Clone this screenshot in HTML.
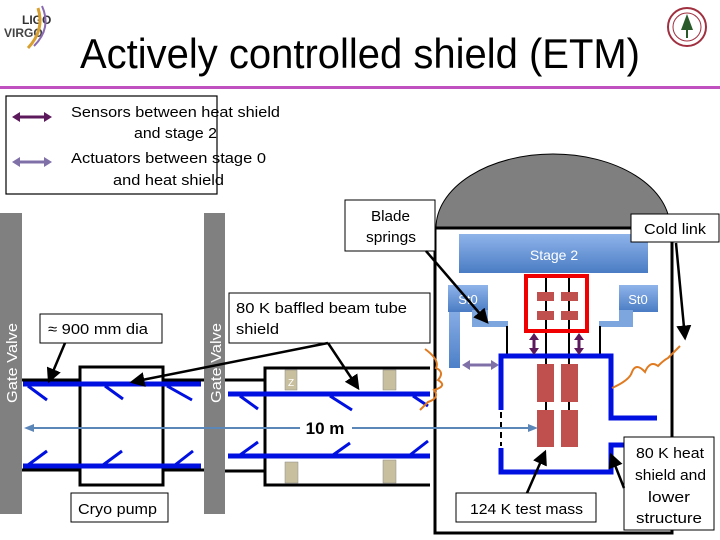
<!DOCTYPE html>
<html><head><meta charset="utf-8"><style>
body{margin:0;background:#fff}
svg{display:block}
text{font-family:"Liberation Sans",sans-serif}
</style></head><body>
<svg width="720" height="540" viewBox="0 0 720 540" xmlns="http://www.w3.org/2000/svg">
<defs>
<linearGradient id="bl" x1="0" y1="0" x2="0" y2="1"><stop offset="0" stop-color="#8fb4ea"/><stop offset="1" stop-color="#4a7cc4"/></linearGradient>
<linearGradient id="blv" x1="0" y1="0" x2="0" y2="1"><stop offset="0" stop-color="#9ebef0"/><stop offset="1" stop-color="#4d80c8"/></linearGradient>
<marker id="ak" markerWidth="6" markerHeight="6" refX="5" refY="3" orient="auto" markerUnits="strokeWidth"><path d="M0,0 L6,3 L0,6 z" fill="#000"/></marker>
</defs>
<!-- header -->
<text x="22" y="24" font-size="12" font-weight="bold" fill="#333">LIGO</text>
<text x="4" y="37" font-size="12" font-weight="bold" fill="#444">VIRGO</text>
<path d="M28,48 Q45,30 38,8" stroke="#d8a030" stroke-width="3" fill="none"/>
<path d="M34,46 Q52,28 42,6" stroke="#8a6ab0" stroke-width="2" fill="none"/>
<circle cx="687" cy="27" r="19" fill="#fff" stroke="#a03040" stroke-width="2"/>
<circle cx="687" cy="27" r="14" fill="none" stroke="#a03040" stroke-width="1"/>
<path d="M687,14 L681,30 L693,30 z M686,30 h2 v8 h-2z" fill="#2a5a2a"/>
<text x="360" y="68" font-size="42" text-anchor="middle" fill="#000" textLength="560" lengthAdjust="spacingAndGlyphs">Actively controlled shield (ETM)</text>
<rect x="0" y="86" width="720" height="3" fill="#c050c0"/>
<!-- legend -->
<rect x="6" y="96" width="211" height="98" fill="#fff" stroke="#000" stroke-width="1.2"/>
<line x1="16" y1="117" x2="48" y2="117" stroke="#5c1a5c" stroke-width="3"/>
<path d="M12,117 l8,-5 v10z M52,117 l-8,-5 v10z" fill="#5c1a5c"/>
<line x1="16" y1="162" x2="48" y2="162" stroke="#8070a8" stroke-width="3"/>
<path d="M12,162 l8,-5 v10z M52,162 l-8,-5 v10z" fill="#8070a8"/>
<g font-size="15" fill="#000" lengthAdjust="spacingAndGlyphs">
<text x="71" y="117" textLength="209" lengthAdjust="spacingAndGlyphs">Sensors between heat shield</text>
<text x="134" y="138" textLength="83" lengthAdjust="spacingAndGlyphs">and stage 2</text>
<text x="71" y="163" textLength="195" lengthAdjust="spacingAndGlyphs">Actuators between stage 0</text>
<text x="113" y="185" textLength="111" lengthAdjust="spacingAndGlyphs">and heat shield</text>
</g>
<!-- gate valves -->
<rect x="0" y="213" width="22" height="301" fill="#808080"/>
<rect x="204" y="213" width="21" height="301" fill="#808080"/>
<text transform="translate(17,363) rotate(-90)" font-size="15" fill="#fff" text-anchor="middle" textLength="80" lengthAdjust="spacingAndGlyphs">Gate Valve</text>
<text transform="translate(221,363) rotate(-90)" font-size="15" fill="#fff" text-anchor="middle" textLength="80" lengthAdjust="spacingAndGlyphs">Gate Valve</text>
<!-- pipes -->
<g stroke="#000" stroke-width="3" fill="none">
<line x1="22" y1="380" x2="204" y2="380"/><line x1="22" y1="470" x2="204" y2="470"/>
<rect x="80" y="367" width="83" height="118" fill="#fff"/>
<line x1="225" y1="380" x2="265" y2="380"/><line x1="225" y1="471" x2="265" y2="471"/>
<rect x="265" y="368" width="170" height="117" fill="#fff"/>
</g>
<g fill="#c8bf9e" stroke="#888" stroke-width="0.5">
<rect x="285" y="370" width="12" height="20"/><rect x="383" y="370" width="13" height="20"/>
<rect x="285" y="462" width="13" height="21"/><rect x="383" y="460" width="13" height="23"/>
</g>
<text x="291" y="386" font-size="10" fill="#fff" text-anchor="middle">Z</text>
<g stroke="#0010e0" stroke-width="5" fill="none">
<line x1="23" y1="384" x2="201" y2="384"/><line x1="23" y1="466" x2="201" y2="466"/>
<line x1="228" y1="394" x2="456" y2="394"/><line x1="228" y1="456" x2="456" y2="456"/>
<line x1="451" y1="400" x2="501" y2="400"/><line x1="451" y1="448" x2="501" y2="448"/>
</g>
<g stroke="#0010e0" stroke-width="3">
<line x1="28" y1="386" x2="47" y2="400"/><line x1="105" y1="386" x2="123" y2="399"/><line x1="167" y1="386" x2="192" y2="400"/>
<line x1="28" y1="465" x2="47" y2="451"/><line x1="103" y1="465" x2="122" y2="451"/><line x1="175" y1="465" x2="193" y2="451"/>
<line x1="240" y1="396" x2="258" y2="409"/><line x1="330" y1="396" x2="352" y2="410"/><line x1="413" y1="396" x2="428" y2="406"/>
<line x1="240" y1="455" x2="258" y2="442"/><line x1="333" y1="455" x2="350" y2="443"/><line x1="410" y1="455" x2="428" y2="441"/>
</g>
<!-- chamber -->
<ellipse cx="553" cy="228" rx="117" ry="74" fill="#7f7f7f" stroke="#000" stroke-width="1"/>
<rect x="430" y="228" width="250" height="310" fill="#fff"/>
<path d="M435,228 L672,228 L672,533 L435,533 Z" fill="#fff" stroke="#000" stroke-width="3"/>
<rect x="459" y="234" width="189" height="39" fill="url(#bl)"/>
<text x="554" y="260" font-size="14" fill="#fff" text-anchor="middle">Stage 2</text>
<rect x="449" y="288" width="11" height="80" fill="url(#blv)"/>
<rect x="448" y="285" width="40" height="27" fill="url(#bl)"/>
<rect x="472" y="310" width="16" height="12" fill="#7ea6de"/>
<rect x="472" y="321" width="36" height="6" fill="#7ea6de"/>
<text x="468" y="304" font-size="13" fill="#fff" text-anchor="middle">St0</text>
<rect x="619" y="285" width="39" height="27" fill="url(#bl)"/>
<rect x="619" y="310" width="14" height="12" fill="#7ea6de"/>
<rect x="599" y="321" width="34" height="6" fill="#7ea6de"/>
<text x="638" y="304" font-size="13" fill="#fff" text-anchor="middle">St0</text>
<g stroke="#000" stroke-width="2">
<line x1="507" y1="326" x2="507" y2="356"/><line x1="600" y1="326" x2="600" y2="356"/>
<line x1="546" y1="275" x2="546" y2="447"/><line x1="569" y1="275" x2="569" y2="447"/>
</g>
<rect x="526" y="276" width="61" height="55" fill="none" stroke="#f00000" stroke-width="4"/>
<g fill="#c0504d">
<rect x="537" y="292" width="17" height="9"/><rect x="561" y="292" width="17" height="9"/>
<rect x="537" y="311" width="17" height="9"/><rect x="561" y="311" width="17" height="9"/>
<rect x="537" y="364" width="17" height="38"/><rect x="561" y="364" width="17" height="38"/>
<rect x="537" y="410" width="17" height="37"/><rect x="561" y="410" width="17" height="37"/>
</g>
<g stroke="#0010e0" stroke-width="5" fill="none">
<path d="M501,410 V356 H611 V418 H657"/>
<path d="M501,448 V472 H611 V445 H627"/>
</g>
<line x1="501" y1="412" x2="501" y2="446" stroke="#000" stroke-width="2" stroke-dasharray="6,4"/>
<g stroke="#5c1a5c" stroke-width="3"><line x1="534" y1="338" x2="534" y2="350"/><line x1="579" y1="338" x2="579" y2="350"/></g>
<path d="M534,333 l-5,7 h10z M534,355 l-5,-7 h10z M579,333 l-5,7 h10z M579,355 l-5,-7 h10z" fill="#5c1a5c"/>
<line x1="467" y1="365" x2="494" y2="365" stroke="#8070a8" stroke-width="3"/>
<path d="M462,365 l8,-5 v10z M499,365 l-8,-5 v10z" fill="#8070a8"/>
<line x1="30" y1="428" x2="534" y2="428" stroke="#5b86b8" stroke-width="2"/>
<path d="M24,428 l10,-4 v8z M538,428 l-10,-4 v8z" fill="#5b86b8"/>
<rect x="300" y="416" width="52" height="24" fill="#fff"/>
<text x="325" y="434" font-size="17" font-weight="bold" text-anchor="middle">10 m</text>
<g stroke="#e07a20" stroke-width="2" fill="none">
<path d="M425,349 Q440,360 436,368 Q445,372 438,380 Q448,386 434,390 Q440,398 428,402 L420,410"/>
<path d="M612,388 Q630,380 632,372 Q636,362 645,372 Q650,360 658,366 Q664,360 668,358 L680,346"/>
</g>
<g fill="#fff" stroke="#000" stroke-width="1">
<rect x="40" y="314" width="122" height="29"/>
<rect x="229" y="293" width="201" height="50"/>
<rect x="345" y="200" width="90" height="51"/>
<rect x="631" y="214" width="88" height="28"/>
<rect x="71" y="493" width="97" height="29"/>
<rect x="456" y="493" width="140" height="29"/>
<rect x="624" y="437" width="90" height="93"/>
</g>
<g font-size="15" fill="#000">
<text x="48" y="334" textLength="100" lengthAdjust="spacingAndGlyphs">≈ 900 mm dia</text>
<text x="236" y="313" textLength="171" lengthAdjust="spacingAndGlyphs">80 K baffled beam tube</text>
<text x="236" y="334" textLength="43" lengthAdjust="spacingAndGlyphs">shield</text>
<text x="371" y="221" textLength="39" lengthAdjust="spacingAndGlyphs">Blade</text>
<text x="366" y="242" textLength="50" lengthAdjust="spacingAndGlyphs">springs</text>
<text x="644" y="234" textLength="62" lengthAdjust="spacingAndGlyphs">Cold link</text>
<text x="78" y="514" textLength="79" lengthAdjust="spacingAndGlyphs">Cryo pump</text>
<text x="470" y="514" textLength="113" lengthAdjust="spacingAndGlyphs">124 K test mass</text>
<text x="636" y="458" textLength="68" lengthAdjust="spacingAndGlyphs">80 K heat</text>
<text x="635" y="480" textLength="71" lengthAdjust="spacingAndGlyphs">shield and</text>
<text x="648" y="502" textLength="42" lengthAdjust="spacingAndGlyphs">lower</text>
<text x="636" y="523" textLength="66" lengthAdjust="spacingAndGlyphs">structure</text>
</g>
<g stroke="#000" stroke-width="2.5" fill="none" marker-end="url(#ak)">
<line x1="65" y1="343" x2="49" y2="381"/>
<line x1="328" y1="343" x2="132" y2="382"/>
<line x1="328" y1="343" x2="358" y2="388"/>
<line x1="426" y1="251" x2="487" y2="322"/>
<line x1="676" y1="243" x2="685" y2="338"/>
<line x1="527" y1="493" x2="545" y2="452"/>
<line x1="624" y1="488" x2="611" y2="455"/>
</g>
</svg>
</body></html>
